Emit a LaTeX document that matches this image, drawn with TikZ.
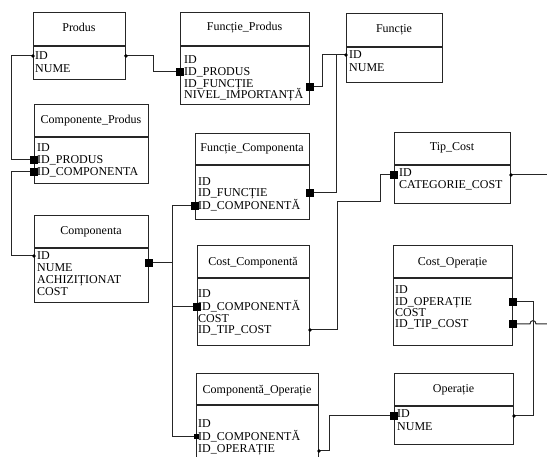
\documentclass[tikz,border=0pt]{standalone}
\usepackage{fontspec}
\setmainfont{Liberation Serif}
\begin{document}
\begin{tikzpicture}[x=1pt,y=-1pt,
  ent/.style={draw=black!85, line width=0.9pt, anchor=north west, inner sep=0pt, rectangle},
  divln/.style={draw=black!85, line width=1.3pt},
  ttl/.style={font=\fontsize{12}{13}\selectfont, inner sep=0pt, text height=7.9pt, text depth=0pt, anchor=center},
  fld/.style={font=\fontsize{12}{13}\selectfont, inner sep=0pt, text height=7.9pt, text depth=0pt, anchor=west},
  conn/.style={draw=black!85, line width=1pt},
  sqm/.style={fill=black, inner sep=0pt, minimum size=7.5pt, rectangle},
  sqs/.style={fill=black, inner sep=0pt, minimum size=5pt, rectangle},
  dotm/.style={fill=black, inner sep=0pt, minimum size=3.8pt, circle}]
\clip (0,0) rectangle (547,457);

% ---------- entities ----------
\node[ent, minimum width=92pt, minimum height=67pt] (produs) at (33,12) {};
\draw[divln] (33,46) -- (125,46);
\node[ttl] (produs-t) at (79,28) {Produs};
\node[fld] (produs-id) at (35,56) {ID};
\node[fld] (produs-nume) at (35,69) {NUME};

\node[ent, minimum width=129pt, minimum height=92pt] (fp) at (180,12) {};
\draw[divln] (180,46) -- (309,46);
\node[ttl] (fp-t) at (244.5,27) {Funcție\_Produs};
\node[fld] (fp-id) at (184,60) {ID};
\node[fld] (fp-prod) at (184,72) {ID\_PRODUS};
\node[fld] (fp-fun) at (184,83.5) {ID\_FUNCȚIE};
\node[fld] (fp-niv) at (184,95) {NIVEL\_IMPORTANȚĂ};

\node[ent, minimum width=96pt, minimum height=69pt] (functie) at (346,13) {};
\draw[divln] (346,47) -- (442,47);
\node[ttl] (functie-t) at (394,29) {Funcție};
\node[fld] (functie-id) at (349,55) {ID};
\node[fld] (functie-nume) at (349,68) {NUME};

\node[ent, minimum width=114pt, minimum height=79pt] (cp) at (34,104) {};
\draw[divln] (34,137) -- (148,137);
\node[ttl] (cp-t) at (91,120) {Componente\_Produs};
\node[fld] (cp-id) at (37,148) {ID};
\node[fld] (cp-prod) at (37,160) {ID\_PRODUS};
\node[fld] (cp-comp) at (37,172) {ID\_COMPONENTA};

\node[ent, minimum width=114pt, minimum height=87pt] (comp) at (34,215) {};
\draw[divln] (34,248) -- (148,248);
\node[ttl] (comp-t) at (91,231) {Componenta};
\node[fld] (comp-id) at (37,256) {ID};
\node[fld] (comp-nume) at (37,268) {NUME};
\node[fld] (comp-ach) at (37,280) {ACHIZIȚIONAT};
\node[fld] (comp-cost) at (37,292) {COST};

\node[ent, minimum width=114pt, minimum height=86pt] (fc) at (195,133) {};
\draw[divln] (195,165) -- (309,165);
\node[ttl] (fc-t) at (252,148) {Funcție\_Componenta};
\node[fld] (fc-id) at (198,182) {ID};
\node[fld] (fc-fun) at (198,193) {ID\_FUNCȚIE};
\node[fld] (fc-comp) at (198,206) {ID\_COMPONENTĂ};

\node[ent, minimum width=112pt, minimum height=100pt] (cc) at (197,245) {};
\draw[divln] (197,278) -- (309,278);
\node[ttl] (cc-t) at (253,262) {Cost\_Componentă};
\node[fld] (cc-id) at (198,294) {ID};
\node[fld] (cc-comp) at (198,307) {ID\_COMPONENTĂ};
\node[fld] (cc-cost) at (198,318.5) {COST};
\node[fld] (cc-tip) at (198,330) {ID\_TIP\_COST};

\node[ent, minimum width=116pt, minimum height=71pt] (tc) at (394,132) {};
\draw[divln] (394,165) -- (510,165);
\node[ttl] (tc-t) at (452,147) {Tip\_Cost};
\node[fld] (tc-id) at (399,173) {ID};
\node[fld] (tc-cat) at (399,185) {CATEGORIE\_COST};

\node[ent, minimum width=119pt, minimum height=100pt] (cop) at (393,245) {};
\draw[divln] (393,278) -- (512,278);
\node[ttl] (cop-t) at (452.5,262) {Cost\_Operație};
\node[fld] (cop-id) at (395,290) {ID};
\node[fld] (cop-op) at (395,302) {ID\_OPERAȚIE};
\node[fld] (cop-cost) at (395,313) {COST};
\node[fld] (cop-tip) at (395,324) {ID\_TIP\_COST};

\node[ent, minimum width=122pt, minimum height=100pt] (co) at (196,373) {};
\draw[divln] (196,405) -- (318,405);
\node[ttl] (co-t) at (257,390) {Componentă\_Operație};
\node[fld] (co-id) at (198,424) {ID};
\node[fld] (co-comp) at (198,437) {ID\_COMPONENTĂ};
\node[fld] (co-op) at (198,448.5) {ID\_OPERAȚIE};

\node[ent, minimum width=119pt, minimum height=71pt] (op) at (394,373) {};
\draw[divln] (394,406) -- (513,406);
\node[ttl] (op-t) at (453.5,389) {Operație};
\node[fld] (op-id) at (397,414) {ID};
\node[fld] (op-nume) at (397,427) {NUME};

% ---------- bend coordinates ----------
\coordinate (b1) at (11,0);
\coordinate (b2) at (153,0);
\coordinate (b3) at (322,87);
\coordinate (b4) at (336,0);
\coordinate (b6) at (172,263);
\coordinate (b7a) at (337,202);
\coordinate (b7b) at (380,175);
\coordinate (e8) at (552,175);
\coordinate (b9) at (533,416);
\coordinate (h1) at (530,324);
\coordinate (h2) at (536,324);
\coordinate (e10) at (552,324);
\coordinate (b11a) at (329,451);
\coordinate (b11b) at (329,416);

% ---------- connectors ----------
\draw[conn] (produs.west |- produs-id) -- (b1 |- produs-id) -- (b1 |- cp-prod) -- (cp.west |- cp-prod);
\draw[conn] (produs.east |- produs-id) -- (b2 |- produs-id) -- (b2 |- fp-prod) -- (fp.west |- fp-prod);
\draw[conn] (fp.east |- b3) -- (b3) -- (b3 |- functie-id) -- (functie.west |- functie-id);
\draw[conn] (fc.east |- fc-fun) -- (b4 |- fc-fun) -- (b4 |- functie-id);
\draw[conn] (cp.west |- cp-comp) -- (b1 |- cp-comp) -- (b1 |- comp-id) -- (comp.west |- comp-id);
\draw[conn] (comp.east |- b6) -- (b6) -- (b6 |- fc-comp) -- (fc.west |- fc-comp);
\draw[conn] (b6) -- (b6 |- co-comp) -- (co.west |- co-comp);
\draw[conn] (b6 |- cc-comp) -- (cc.west |- cc-comp);
\draw[conn] (cc.east |- cc-tip) -- (b7a |- cc-tip) -- (b7a) -- (b7b |- b7a) -- (b7b) -- (tc.west |- b7b);
\draw[conn] (tc.east |- b7b) -- (e8);
\draw[conn] (cop.east |- cop-op) -- (b9 |- cop-op) -- (b9) -- (op.east |- b9);
\draw[conn] (cop.east |- cop-tip) -- (h1) .. controls (530,319.5) and (536,319.5) .. (h2) -- (e10);
\draw[conn] (co.east |- b11a) -- (b11a) -- (b11b) -- (op.west |- b11b);

% ---------- markers ----------
\node[dotm] (m1) at (produs.west |- produs-id) {};
\node[sqm] (m2) at (cp.west |- cp-prod) {};
\node[dotm] (m3) at (produs.east |- produs-id) {};
\node[sqm] (m4) at (fp.west |- fp-prod) {};
\node[sqm] (m5) at (fp.east |- b3) {};
\node[dotm] (m6) at (functie.west |- functie-id) {};
\node[sqm] (m7) at (fc.east |- fc-fun) {};
\node[sqm] (m8) at (cp.west |- cp-comp) {};
\node[dotm] (m9) at (comp.west |- comp-id) {};
\node[sqm] (m10) at (comp.east |- b6) {};
\node[sqm] (m11) at (fc.west |- fc-comp) {};
\node[sqm] (m12) at (cc.west |- cc-comp) {};
\node[sqs] (m13) at (co.west |- co-comp) {};
\node[dotm] (m14) at (cc.east |- cc-tip) {};
\node[sqm] (m15) at (tc.west |- b7b) {};
\node[dotm] (m16) at (tc.east |- b7b) {};
\node[sqm] (m17) at (cop.east |- cop-op) {};
\node[sqm] (m18) at (cop.east |- cop-tip) {};
\node[dotm] (m19) at (op.east |- b9) {};
\node[dotm] (m20) at (co.east |- b11a) {};
\node[sqm] (m21) at (op.west |- b11b) {};
\end{tikzpicture}
\end{document}
